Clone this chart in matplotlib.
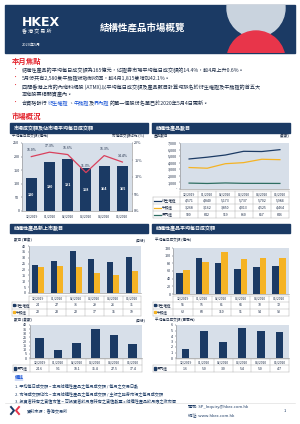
import numpy as np
import matplotlib
matplotlib.use('Agg')
from matplotlib import pyplot as plt
from matplotlib.patches import Rectangle, Circle

plt.rcParams['font.family'] = ['Noto Sans CJK TC', 'DejaVu Sans']

months = ['12/2019', '01/2020', '02/2020', '03/2020', '04/2020', '05/2020']

# chart 1: turnover (HK$ 100m) and market share (%)
adt = [120, 180, 191, 158, 164, 165]
share = [16.0, 17.3, 16.6, 11.3, 16.3, 14.4]

# chart 2: number of products
n_dw = [4571, 4840, 5173, 5737, 5702, 5984]
n_cbbc = [3268, 3162, 3850, 4013, 4525, 4464]
n_ibbc = [900, 842, 919, 860, 857, 846]

# chart 3: new listings (hundreds)
new_dw = [24, 27, 36, 29, 26, 31]
new_cbbc = [22, 23, 22, 17, 15, 19]

# chart 4: average daily turnover (HK$ 100m)
adt_dw = [55, 95, 81, 66, 70, 72]
adt_cbbc = [62, 83, 110, 91, 94, 93]

# chart 5 / 6: inline warrants
new_ibbc = [24.6, 9.1, 18.1, 35.4, 27.5, 17.4]
adt_ibbc = [1.6, 5.0, 3.0, 5.4, 5.0, 4.7]

NAVY = '#1b3a64'
ORANGE = '#f5b324'
GREEN = '#2e6e62'
PINK = '#d9415d'
PBG = '#d7dfe9'
RED = '#e3232c'
TXT = '#1b2a44'

fig = plt.figure(figsize=(3.0, 4.24), dpi=100)
bg = fig.add_axes([0, 0, 1, 1])
bg.set_xlim(0, 300)
bg.set_ylim(424, 0)
bg.axis('off')


def px_axes(x, y, w, h):
    return fig.add_axes([x / 300, 1 - (y + h) / 424, w / 300, h / 424])


def style(ax, ylim, ticks, labels=None):
    ax.set_facecolor(PBG)
    ax.set_xlim(-0.5, 5.5)
    ax.set_ylim(*ylim)
    ax.set_yticks(ticks)
    if labels is not None:
        ax.set_yticklabels(labels)
    ax.set_xticks([])
    for s in ['top', 'right']:
        ax.spines[s].set_visible(False)
    for s in ['left', 'bottom']:
        ax.spines[s].set_color('#8a8a8a')
        ax.spines[s].set_linewidth(0.4)
    ax.tick_params(labelsize=2.7, length=1, width=0.3, pad=1, colors=TXT)


# ---------- header band ----------
band = Rectangle((5, 5), 290, 47.5, color=NAVY)
bg.add_patch(band)
for cx, cy, col in [(256, 8, '#c9d3de'), (256, 60, '#e8354a')]:
    c = Circle((cx, cy), 29, color=col)
    bg.add_patch(c)
    c.set_clip_path(band)
bg.text(22, 22, 'HKEX', color='white', fontsize=9, fontweight='bold', va='center', family='DejaVu Sans')
bg.text(22, 32, '香 港 交 易 所', color='white', fontsize=3.6, va='center')
bg.text(22, 45, '2020年5月', color='white', fontsize=2.8, va='center')
bg.text(100, 28, '結構性產品市場概覽', color='white', fontsize=6.8, fontweight='bold', va='center')

# ---------- highlights ----------
bg.text(12, 61, '本月焦點', color=RED, fontsize=5.3, fontweight='bold', va='center')
fs = 3.7
bullets = [
    (70, '結構性產品的平均每日成交額為165億元，佔證券市場平均每日成交額的14.4%，較4月上升0.6%。'),
    (78.7, '5月份共有2,580隻牛熊證被強制收回，較4月1,815隻增加42.1%。'),
    (86.7, '四間香港上市的內地科網股 (ATMX)以平均每日成交額及產品數目計算均排名於衍生權證及牛熊證的首五大'),
]
for yy, s in bullets:
    bg.text(13, yy, '•', color=RED, fontsize=fs, va='center')
    bg.text(22, yy, s, color=TXT, fontsize=fs, va='center')
bg.text(22, 94.3, '本地股票相關資產內。', color=TXT, fontsize=fs, va='center')
bg.text(13, 103.3, '•', color=RED, fontsize=fs, va='center')

r = fig.canvas.get_renderer()
xx = 22
for s, c in [('合資格發行', TXT), ('衍生權證', '#1a55d6'), ('、', TXT), ('牛熊證', '#1a55d6'),
             ('及', TXT), ('界內證', '#1a55d6'), ('的單一個股份名單已於2020年5月4日更新。', TXT)]:
    t = bg.text(xx, 103.3, s, color=c, fontsize=fs, va='center')
    xx += t.get_window_extent(r).width

bg.text(12, 116.5, '市場概況', color=RED, fontsize=5.3, fontweight='bold', va='center')


def header(x, y, w, s):
    bg.add_patch(Rectangle((x, y), w, 9.5, color=NAVY))
    bg.text(x + 4, y + 4.9, s, color='white', fontsize=3.6, fontweight='bold', va='center')


header(10, 123.3, 137.5, '市場成交額及佔市場平均每日成交額')
header(152, 123.3, 138, '結構性產品數目')
header(10, 223.5, 137.5, '結構性產品新上市數目')
header(152, 223.5, 138, '結構性產品平均每日成交額')


def table(x0, x1, xl, ytop, hh, rh, rows, names, marks):
    w = (x1 - x0) / 6
    ys = [ytop, ytop + hh] + [ytop + hh + rh * (k + 1) for k in range(len(rows))]
    lc, lw = '#a8a8a8', 0.3
    bg.plot([x0, x1], [ys[0], ys[0]], color=lc, lw=lw)
    for yy in ys[1:]:
        bg.plot([xl, x1], [yy, yy], color=lc, lw=lw)
    for i in range(7):
        bg.plot([x0 + i * w] * 2, [ys[0], ys[-1]], color=lc, lw=lw)
    bg.plot([xl, xl], [ys[1], ys[-1]], color=lc, lw=lw)
    for i, m in enumerate(months):
        bg.text(x0 + (i + 0.5) * w, (ys[0] + ys[1]) / 2, m, fontsize=2.4, color=TXT, ha='center', va='center')
    for k, row in enumerate(rows):
        yc = (ys[k + 1] + ys[k + 2]) / 2
        kind, col = marks[k]
        if kind == 'line':
            bg.plot([xl + 1, xl + 8], [yc, yc], color=col, lw=0.9)
            tx = xl + 8.5
        else:
            bg.add_patch(Rectangle((xl + 0.8, yc - 1.3), 2.6, 2.6, color=col))
            tx = xl + 3.6
        bg.text(tx, yc, names[k], fontsize=2.6, color=TXT, va='center')
        for i, v in enumerate(row):
            bg.text(x0 + (i + 0.5) * w, yc, v, fontsize=2.5, color=TXT, ha='center', va='center')


x = np.arange(6)

# ---------- chart 1 ----------
bg.text(12, 136.5, '平均每日成交額 (億元)', fontsize=2.6, color=TXT, va='center')
bg.text(144, 136.5, '市場成交額佔比 (%)', fontsize=2.6, color=TXT, va='center', ha='right')
ax1 = px_axes(22.2, 143, 109.3, 68)
style(ax1, (0, 250), range(0, 251, 50))
ax1.bar(x, adt, width=0.6, color=NAVY)
for i, v in enumerate(adt):
    ax1.text(i, v / 2, str(v), color='white', fontsize=2.6, ha='center', va='center', fontweight='bold')
ax1b = ax1.twinx()
ax1b.set_ylim(0, 20)
ax1b.set_yticks(range(0, 21, 5))
ax1b.set_yticklabels([f'{v}%' for v in range(0, 21, 5)])
ax1b.tick_params(labelsize=2.7, length=1, width=0.3, pad=1, colors=TXT)
for s in ['top', 'left', 'bottom']:
    ax1b.spines[s].set_visible(False)
ax1b.spines['right'].set_color('#8a8a8a')
ax1b.spines['right'].set_linewidth(0.4)
ax1b.plot(x, share, color=PINK, lw=0.9)
for i, v in enumerate(share):
    ax1b.annotate(f'{v:.1f}%', (i, v), xytext=(0, 3), textcoords='offset points',
                  fontsize=2.5, ha='center', va='bottom', color=TXT)
for i, m in enumerate(months):
    bg.text(22.2 + (i + 0.5) * 109.3 / 6, 216.5, m, fontsize=2.4, color=TXT, ha='center', va='center')

# ---------- chart 2 ----------
bg.text(154, 136.5, '產品數目', fontsize=2.6, color=TXT, va='center')
bg.text(290, 136.5, '(隻數)', fontsize=2.6, color=TXT, va='center', ha='right')
ax2 = px_axes(180, 143, 109, 46)
style(ax2, (0, 7000), range(0, 7001, 1000),
      ['-'] + [f'{v:,}' for v in range(1000, 7001, 1000)])
ax2.plot(x, n_dw, color=NAVY, lw=0.9)
ax2.plot(x, n_cbbc, color=ORANGE, lw=0.9)
ax2.plot(x, n_ibbc, color=GREEN, lw=0.9)
table(180, 289, 153, 191, 6, 7,
      [[f'{v:,}' for v in n_dw], [f'{v:,}' for v in n_cbbc], [f'{v:,}' for v in n_ibbc]],
      ['衍生權證', '牛熊證', '界內證'],
      [('line', NAVY), ('line', ORANGE), ('line', GREEN)])

# ---------- chart 3 ----------
bg.text(14, 240.5, '數目 (百隻)', fontsize=2.6, color=TXT, va='center')
bg.text(145, 240.5, '(月份)', fontsize=2.6, color=TXT, va='center', ha='right')
ax3 = px_axes(28.6, 246, 112.8, 47)
style(ax3, (0, 40), range(0, 41, 5))
ax3.bar(x - 0.16, new_dw, width=0.32, color=NAVY)
ax3.bar(x + 0.16, new_cbbc, width=0.32, color=ORANGE)
table(28.6, 141.4, 12, 295.5, 6, 7,
      [[str(v) for v in new_dw], [str(v) for v in new_cbbc]],
      ['衍生權證', '牛熊證'], [('box', NAVY), ('box', ORANGE)])

# ---------- chart 4 ----------
bg.text(155, 240.5, '平均每日成交額 (億元)', fontsize=2.6, color=TXT, va='center')
ax4 = px_axes(173.4, 248, 115.2, 46)
style(ax4, (0, 120), range(0, 121, 20))
ax4.bar(x - 0.17, adt_dw, width=0.34, color=NAVY)
ax4.bar(x + 0.17, adt_cbbc, width=0.34, color=ORANGE)
table(173.4, 288.6, 153, 295.5, 6, 7,
      [[str(v) for v in adt_dw], [str(v) for v in adt_cbbc]],
      ['衍生權證', '牛熊證'], [('box', NAVY), ('box', ORANGE)])

# ---------- chart 5 ----------
bg.text(14, 320.5, '數目 (隻數)', fontsize=2.6, color=TXT, va='center')
bg.text(145, 320.5, '(月份)', fontsize=2.6, color=TXT, va='center', ha='right')
ax5 = px_axes(30, 325, 112, 33)
style(ax5, (0, 40), range(0, 41, 5))
ax5.bar(x, new_ibbc, width=0.45, color=NAVY)
table(30, 142, 13, 359, 6, 7, [[f'{v:.1f}' for v in new_ibbc]],
      ['界內證'], [('box', NAVY)])

# ---------- chart 6 ----------
bg.text(155, 320.5, '平均每日成交額 (百萬元)', fontsize=2.6, color=TXT, va='center')
ax6 = px_axes(176, 325, 113, 33)
style(ax6, (0, 6), range(0, 7))
ax6.bar(x, adt_ibbc, width=0.4, color=NAVY)
table(176, 289, 153, 359, 6, 7, [[f'{v:.1f}' for v in adt_ibbc]],
      ['界內證'], [('box', NAVY)])

# ---------- notes ----------
bg.text(15, 377.5, '備註', fontsize=3.3, color='#1a55d6', fontweight='bold', va='center')
bg.plot([15, 23], [380, 380], color='#1a55d6', lw=0.3)
notes = ['1. 平均每日成交額 = 本月結構性產品之每月成交額 / 每月之交易日數',
         '2. 市場成交額佔比 = 本月結構性產品之每月成交額 / 主板之證券市場之每月成交額',
         '3. 投資者持有之貨值市值 = 可投資者於月底持有之貨值數量 x 結構性產品於月底之收市價']
for k, s in enumerate(notes):
    bg.text(15, 386.5 + k * 6.8, s, fontsize=3.0, color=NAVY, va='center')

# ---------- footer ----------
bg.plot([5, 295], [403, 403], color='#d8d8d8', lw=0.4)
bg.plot([11, 14, 11], [407, 410.5, 414], color=NAVY, lw=1.4)
bg.plot([19, 16, 19], [407, 410.5, 414], color='#e8354a', lw=1.4)
bg.text(27, 410.5, '資料來源：香港交易所', fontsize=3.0, color=NAVY, va='center')
bg.text(188, 407, '電郵: SP_Inquiry@hkex.com.hk', fontsize=3.0, color=NAVY, va='center')
bg.text(188, 414.5, '網址: www.hkex.com.hk', fontsize=3.0, color=NAVY, va='center')
bg.text(284, 410.5, '1', fontsize=3.0, color=NAVY, va='center')

fig.savefig('out.png', dpi=100)
